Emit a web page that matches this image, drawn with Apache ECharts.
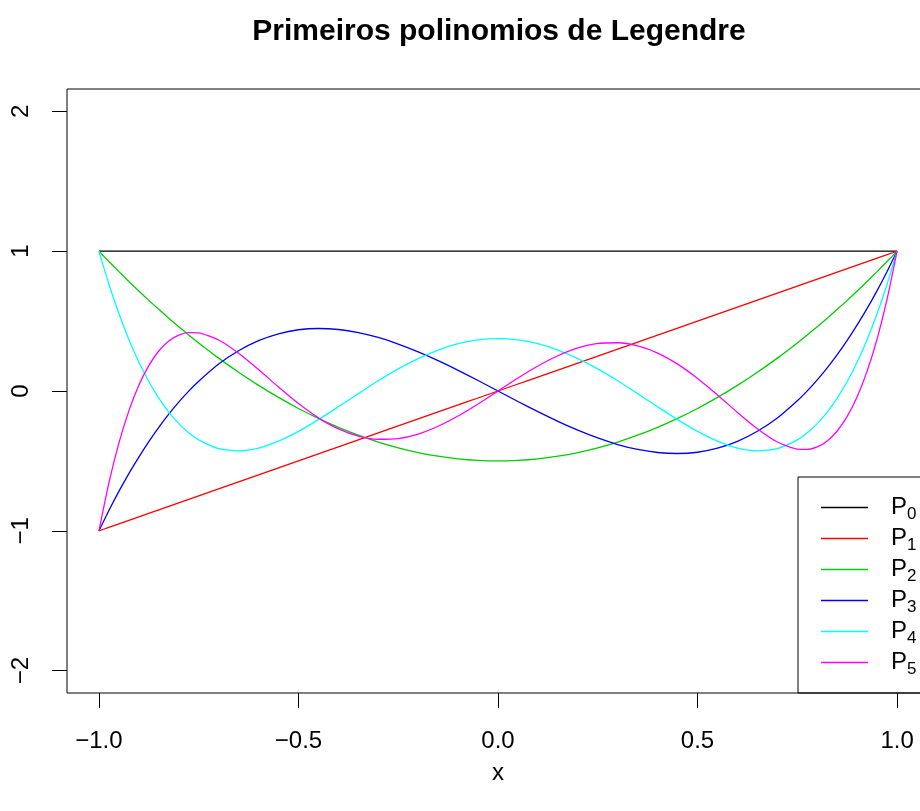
<!DOCTYPE html>
<html>
<head>
<meta charset="utf-8">
<script src="https://cdn.jsdelivr.net/npm/echarts@6/dist/echarts.min.js"></script>
<style>html,body{margin:0;padding:0;background:#fff;}#chart{width:920px;height:811px;}</style>
</head>
<body>
<div id="chart"></div>
<script>
var xs = [-1,-0.975,-0.95,-0.925,-0.9,-0.875,-0.85,-0.825,-0.8,-0.775,-0.75,-0.7,-0.65,-0.6,-0.55,-0.5,-0.45,-0.4,-0.35,-0.3,-0.25,-0.2,-0.15,-0.1,-0.05,
          0,0.05,0.1,0.15,0.2,0.25,0.3,0.35,0.4,0.45,0.5,0.55,0.6,0.65,0.7,0.75,0.775,0.8,0.825,0.85,0.875,0.9,0.925,0.95,0.975,1];
var p0 = [1,1,1,1,1,1,1,1,1,1,1,1,1,1,1,1,1,1,1,1,1,1,1,1,1,
          1,1,1,1,1,1,1,1,1,1,1,1,1,1,1,1,1,1,1,1,1,1,1,1,1,1];
var p1 = [-1,-0.975,-0.95,-0.925,-0.9,-0.875,-0.85,-0.825,-0.8,-0.775,-0.75,-0.7,-0.65,-0.6,-0.55,-0.5,-0.45,-0.4,-0.35,-0.3,-0.25,-0.2,-0.15,-0.1,-0.05,
          0,0.05,0.1,0.15,0.2,0.25,0.3,0.35,0.4,0.45,0.5,0.55,0.6,0.65,0.7,0.75,0.775,0.8,0.825,0.85,0.875,0.9,0.925,0.95,0.975,1];
var p2 = [1,0.926,0.854,0.783,0.715,0.648,0.584,0.521,0.46,0.401,0.344,0.235,0.134,0.04,-0.046,-0.125,-0.196,-0.26,-0.316,-0.365,-0.406,-0.44,-0.466,-0.485,-0.496,
          -0.5,-0.496,-0.485,-0.466,-0.44,-0.406,-0.365,-0.316,-0.26,-0.196,-0.125,-0.046,0.04,0.134,0.235,0.344,0.401,0.46,0.521,0.584,0.648,0.715,0.783,0.854,0.926,1];
var p3 = [-1,-0.855,-0.718,-0.591,-0.473,-0.362,-0.26,-0.166,-0.08,-0.001,0.07,0.193,0.288,0.36,0.409,0.438,0.447,0.44,0.418,0.383,0.336,0.28,0.217,0.148,0.075,
          0,-0.075,-0.148,-0.217,-0.28,-0.336,-0.383,-0.418,-0.44,-0.447,-0.438,-0.409,-0.36,-0.288,-0.193,-0.07,0.001,0.08,0.166,0.26,0.362,0.473,0.591,0.718,0.855,1];
var p4 = [1,0.764,0.554,0.369,0.208,0.068,-0.051,-0.151,-0.233,-0.299,-0.35,-0.412,-0.428,-0.408,-0.359,-0.289,-0.205,-0.113,-0.019,0.073,0.158,0.232,0.293,0.338,0.366,
          0.375,0.366,0.338,0.293,0.232,0.158,0.073,-0.019,-0.113,-0.205,-0.289,-0.359,-0.408,-0.428,-0.412,-0.35,-0.299,-0.233,-0.151,-0.051,0.068,0.208,0.369,0.554,0.764,1];
var p5 = [-1,-0.657,-0.373,-0.142,0.041,0.182,0.286,0.357,0.4,0.418,0.416,0.365,0.27,0.153,0.028,-0.09,-0.192,-0.271,-0.322,-0.345,-0.34,-0.308,-0.252,-0.179,-0.093,
          0,0.093,0.179,0.252,0.308,0.34,0.345,0.322,0.271,0.192,0.09,-0.028,-0.153,-0.27,-0.365,-0.416,-0.418,-0.4,-0.357,-0.286,-0.182,-0.041,0.142,0.373,0.657,1];
var seriesNames = ['P0','P1','P2','P3','P4','P5'];
var seriesColors = ['#000000','#FF0000','#00CD00','#0000FF','#00FFFF','#FF00FF'];
var xTicks = [-1,-0.5,0,0.5,1];
var yTicks = [-2,-1,0,1,2];
var titleText = 'Primeiros polinomios de Legendre';
var xName = 'x';

var FONT = '"Liberation Sans", Arial, Helvetica, sans-serif';
function fmtMinus(s){ return String(s).replace('-', '\u2212'); }
var allY = [p0,p1,p2,p3,p4,p5];

var chart = echarts.init(document.getElementById('chart'), null, {renderer:'canvas'});
var option = {
  animation: false,
  backgroundColor: '#fff',
  textStyle: {fontFamily: FONT},
  grid: {left:67, top:89, width:862, height:604, show:true, borderColor:'#000', borderWidth:1,
         backgroundColor:'transparent', outerBoundsMode:'none', containLabel:false},
  xAxis: {
    type:'value', min:-1.08, max:1.08,
    axisLine:{show:false, onZero:false}, splitLine:{show:false},
    axisTick:{show:true, length:15, lineStyle:{color:'#000', width:1}, customValues:xTicks},
    axisLabel:{customValues:xTicks, fontSize:24, color:'#000', fontFamily:FONT, margin:36,
      formatter:function(v){ return fmtMinus(Number(v).toFixed(1)); }}
  },
  yAxis: {
    type:'value', min:-2.16, max:2.16,
    axisLine:{show:false, onZero:false}, splitLine:{show:false},
    axisTick:{show:true, length:15, lineStyle:{color:'#000', width:1}, customValues:yTicks},
    axisLabel:{customValues:yTicks, fontSize:24, color:'#000', fontFamily:FONT, margin:34, rotate:90,
      formatter:function(v){ return fmtMinus(Math.round(v)); }}
  },
  legend: {
    orient:'vertical', left:821, top:492, padding:0,
    icon:'rect', itemWidth:47, itemHeight:1.3, itemGap:0,
    data: seriesNames,
    formatter: function(n){ return '{a|P}{b|' + n.substring(1) + '}'; },
    textStyle: {color:'#000', fontFamily:FONT,
      rich: {
        a:{fontSize:24, lineHeight:31, padding:[0,0,0,18], fontFamily:FONT, color:'#000'},
        b:{fontSize:17, lineHeight:31, padding:[14,0,0,0], fontFamily:FONT, color:'#000'}
      }
    }
  },
  graphic: [
    {type:'text', z:10, silent:true, x:499, y:32,
     style:{text:titleText, font:'bold 30px ' + FONT, fill:'#000', textAlign:'center', textVerticalAlign:'middle'}},
    {type:'text', z:10, silent:true, x:498, y:773,
     style:{text:xName, font:'24px ' + FONT, fill:'#000', textAlign:'center', textVerticalAlign:'middle'}},
    {type:'rect', z:0, silent:true, shape:{x:798, y:477, width:200, height:216},
     style:{fill:'none', stroke:'#000', lineWidth:1}}
  ],
  series: seriesNames.map(function(n, k){
    return {
      name:n, type:'line', symbol:'none', showSymbol:false, smooth:0.2,
      lineStyle:{color:seriesColors[k], width:1.3}, itemStyle:{color:seriesColors[k]},
      data: xs.map(function(x,i){ return [x, allY[k][i]]; })
    };
  })
};
chart.setOption(option);
</script>
</body>
</html>
